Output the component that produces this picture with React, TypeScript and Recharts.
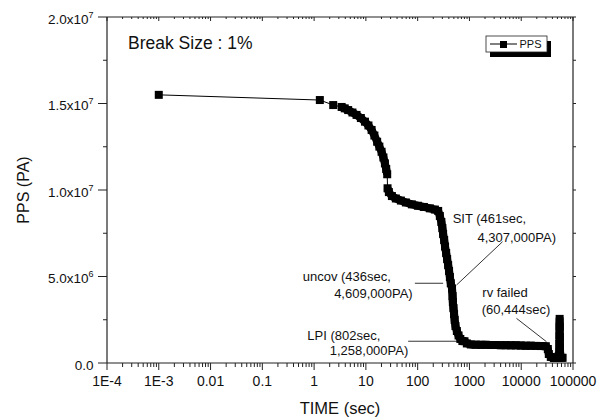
import {
  ComposedChart,
  Customized,
  Line,
  ReferenceLine,
  XAxis,
  YAxis,
} from "recharts";

const FONT = "'Liberation Sans', Arial, sans-serif";

// time (sec)
const times = [
  0.001, 1.29, 2.34, 3.4, 3.9, 4.55, 5.5, 6.6, 8.0, 9.6, 11.2, 12.9, 14.6,
  16.5, 18.2, 20.1, 21.8, 23.3, 24.7, 25.8, 26.2, 27.8, 31.8, 37.9, 47.4, 59.2,
  77.3, 101, 132, 172, 215, 249, 268, 287, 300, 310, 325, 338, 355, 371, 388,
  404, 419, 436, 461, 472, 478, 491, 505, 518, 537, 571, 616, 667, 730, 802,
  891, 1064, 1330, 1660, 2075, 2590, 3235, 4040, 5045, 6300, 7870, 9830,
  12280, 15320, 19130, 23900, 29850, 32650, 34100, 37260, 42600, 48700, 54400,
  54600, 54800, 55000, 55200, 55500, 55800, 56100, 56500, 60444, 63000,
];

// PPS (PA)
const pps = [
  15.5e6, 15.2e6, 14.91e6, 14.8e6, 14.72e6, 14.62e6, 14.48e6, 14.34e6,
  14.16e6, 13.95e6, 13.73e6, 13.47e6, 13.15e6, 12.79e6, 12.51e6, 12.21e6,
  11.88e6, 11.54e6, 11.21e6, 10.91e6, 10.1e6, 9.88e6, 9.65e6, 9.51e6, 9.39e6,
  9.28e6, 9.17e6, 9.09e6, 9.02e6, 8.94e6, 8.87e6, 8.79e6, 8.5e6, 8.15e6,
  7.8e6, 7.46e6, 7.11e6, 6.73e6, 6.36e6, 6.01e6, 5.66e6, 5.32e6, 4.97e6,
  4.609e6, 4.307e6, 3.87e6, 3.53e6, 3.18e6, 2.83e6, 2.49e6, 2.14e6, 1.85e6,
  1.59e6, 1.39e6, 1.27e6, 1.258e6, 1.13e6, 1.07e6, 1.06e6, 1.05e6, 1.05e6,
  1.04e6, 1.04e6, 1.03e6, 1.03e6, 1.02e6, 1.02e6, 1.01e6, 1.0e6, 1.0e6,
  0.99e6, 0.98e6, 0.97e6, 0.81e6, 0.52e6, 0.35e6, 0.29e6, 0.29e6, 0.64e6,
  1.1e6, 1.6e6, 2.1e6, 2.55e6, 2.1e6, 1.5e6, 0.9e6, 0.4e6, 0.3e6, 0.3e6,
];

// where the markers sit so close they merge into a solid band
const denseFrom = 3;
const denseBreakAfter = 19; // the short step near 26 sec

const xMajor = [1e-4, 1e-3, 0.01, 0.1, 1, 10, 100, 1000, 10000, 100000];
const xTickLabels = [
  "1E-4", "1E-3", "0.01", "0.1", "1", "10", "100", "1000", "10000", "100000",
];
const yTicks = [0, 2.5e6, 5e6, 7.5e6, 1e7, 1.25e7, 1.5e7, 1.75e7, 2e7];
const yMajor = [0, 5e6, 1e7, 1.5e7, 2e7];
const yTickMantissa = ["0.0", "5.0x10", "1.0x10", "1.5x10", "2.0x10"];
const yTickExponent = ["", "6", "7", "7", "7"];

// pointer lines for the notes, in data units [t1, p1, t2, p2]
const pointers = [
  [4355, 7.01e6, 564, 4.51e6],
  [88.3, 4.609e6, 310, 4.609e6],
  [65.6, 1.258e6, 705, 1.258e6],
  [8110, 2.58e6, 30760, 1.23e6],
];

const data: any[] = [];
times.forEach((t, i) => {
  data.push({ t, p: pps[i], band: i >= denseFrom ? pps[i] : null });
  if (i === denseBreakAfter) {
    data.push({ t: (t + times[i + 1]) / 2, p: null, band: null });
  }
});

const minors: number[] = [];
xMajor.slice(0, -1).forEach((d) => {
  for (let m = 2; m <= 9; m++) minors.push(d * m);
});
const xTicks = [...xMajor, ...minors].sort((a, b) => a - b);

const isMajorX = (v: number) =>
  Math.abs(Math.log10(v) - Math.round(Math.log10(v))) < 1e-6;

const AXIS = "#222";

function BottomTick(props: any) {
  const { x, y, payload } = props;
  const major = isMajorX(payload.value);
  const idx = xMajor.findIndex((m) => Math.abs(m - payload.value) / m < 1e-6);
  return (
    <g>
      <line x1={x} x2={x} y1={y} y2={y + (major ? 7 : 4)} stroke={AXIS} />
      {major && (
        <text
          x={x}
          y={y + 23}
          textAnchor="middle"
          fontSize={14}
          fontFamily={FONT}
          fill="#111"
        >
          {xTickLabels[idx]}
        </text>
      )}
    </g>
  );
}

function TopTick(props: any) {
  const { x, y, payload } = props;
  const major = isMajorX(payload.value);
  return <line x1={x} x2={x} y1={y} y2={y + (major ? 4 : 2)} stroke={AXIS} />;
}

function LeftTick(props: any) {
  const { x, y, payload } = props;
  const idx = yMajor.indexOf(payload.value);
  const major = idx >= 0;
  return (
    <g>
      <line x1={x - (major ? 9 : 4)} x2={x} y1={y} y2={y} stroke={AXIS} />
      {major && (
        <text
          x={x - 13.5}
          y={y + 6.5}
          textAnchor="end"
          fontSize={13.5}
          fontFamily={FONT}
          fill="#111"
        >
          {yTickMantissa[idx]}
          {yTickExponent[idx] && (
            <tspan dy={-6} fontSize={9}>
              {yTickExponent[idx]}
            </tspan>
          )}
        </text>
      )}
    </g>
  );
}

function RightTick(props: any) {
  const { x, y } = props;
  return <line x1={x} x2={x + 3} y1={y} y2={y} stroke={AXIS} />;
}

function Square(props: any) {
  const { cx, cy, index } = props;
  if (cx == null || cy == null || props.value == null)
    return <g key={`s${index}`} />;
  return (
    <rect key={`s${index}`} x={cx - 4} y={cy - 4} width={8} height={8} fill="#000" />
  );
}

function Overlay() {
  const t = { fontSize: 13, fontFamily: FONT, fill: "#111" };
  return (
    <g>
      <text x={128} y={49} fontSize={17.5} fontFamily={FONT} fill="#111">
        Break Size : 1%
      </text>
      <text x={452.7} y={222.5} {...t}>SIT (461sec,</text>
      <text x={556} y={241.8} textAnchor="end" {...t}>4,307,000PA)</text>
      <text x={302.7} y={280.5} {...t}>uncov (436sec,</text>
      <text x={412.7} y={297.8} textAnchor="end" {...t}>4,609,000PA)</text>
      <text x={482.3} y={297.3} {...t}>rv failed</text>
      <text x={481.7} y={313.5} {...t}>(60,444sec)</text>
      <text x={307.3} y={339.5} {...t}>LPI (802sec,</text>
      <text x={408.3} y={355.2} textAnchor="end" {...t}>1,258,000PA)</text>

      <text
        transform="translate(29,190) rotate(-90)"
        textAnchor="middle"
        fontSize={16}
        fontFamily={FONT}
        fill="#111"
      >
        PPS (PA)
      </text>
      <text
        x={340}
        y={414}
        textAnchor="middle"
        fontSize={16.5}
        fontFamily={FONT}
        fill="#111"
      >
        TIME (sec)
      </text>

      {/* legend */}
      <rect x={490} y={41} width={61} height={16} fill="#000" />
      <rect x={486} y={36} width={61} height={16} fill="#fff" stroke="#222" strokeWidth={0.8} />
      <line x1={490} x2={517} y1={44} y2={44} stroke="#000" />
      <rect x={500} y={41} width={7} height={7} fill="#000" />
      <text x={519.5} y={48} fontSize={11} fontFamily={FONT} fill="#111">
        PPS
      </text>
    </g>
  );
}

export default function App() {
  return (
    <div style={{ position: "absolute", left: 0, top: 0, background: "#fff" }}>
      <ComposedChart
        width={608}
        height={420}
        data={data}
        margin={{ top: 16, right: 34, left: 0, bottom: 0 }}
      >
        <XAxis
          dataKey="t"
          type="number"
          scale="log"
          domain={[1e-4, 1e5]}
          allowDataOverflow
          ticks={xTicks}
          interval={0}
          height={57}
          tickSize={0}
          tickMargin={0}
          tickLine={false}
          axisLine={{ stroke: AXIS, strokeWidth: 1.2 }}
          tick={<BottomTick />}
        />
        <XAxis
          xAxisId="top"
          orientation="top"
          dataKey="t"
          type="number"
          scale="log"
          domain={[1e-4, 1e5]}
          allowDataOverflow
          ticks={xTicks}
          interval={0}
          height={1}
          tickSize={0}
          tickMargin={0}
          tickLine={false}
          axisLine={{ stroke: AXIS, strokeWidth: 1.2 }}
          tick={<TopTick />}
        />
        <YAxis
          type="number"
          domain={[0, 2e7]}
          allowDataOverflow
          ticks={yTicks}
          interval={0}
          width={107}
          tickSize={0}
          tickMargin={0}
          tickLine={false}
          axisLine={{ stroke: AXIS, strokeWidth: 1.2 }}
          tick={<LeftTick />}
        />
        <YAxis
          yAxisId="right"
          orientation="right"
          type="number"
          domain={[0, 2e7]}
          allowDataOverflow
          ticks={yTicks}
          interval={0}
          width={1}
          tickSize={0}
          tickMargin={0}
          tickLine={false}
          axisLine={{ stroke: AXIS, strokeWidth: 1.2 }}
          tick={<RightTick />}
        />
        {pointers.map((s, i) => (
          <ReferenceLine
            key={i}
            segment={[
              { x: s[0], y: s[1] },
              { x: s[2], y: s[3] },
            ]}
            stroke="#000"
            strokeWidth={0.8}
          />
        ))}
        <Line
          dataKey="band"
          stroke="#000"
          strokeWidth={8}
          strokeLinejoin="round"
          dot={false}
          activeDot={false}
          legendType="none"
          isAnimationActive={false}
        />
        <Line
          dataKey="p"
          stroke="#000"
          strokeWidth={1}
          connectNulls
          dot={Square}
          activeDot={false}
          isAnimationActive={false}
        />
        <Customized component={Overlay} />
      </ComposedChart>
    </div>
  );
}
